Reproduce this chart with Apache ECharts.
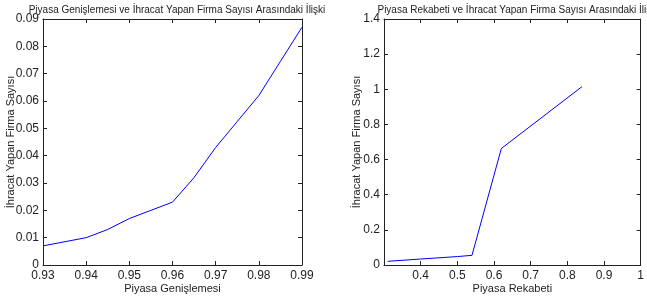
<!DOCTYPE html>
<html>
<head>
<meta charset="utf-8">
<script src="https://cdn.jsdelivr.net/npm/echarts@6/dist/echarts.min.js"></script>
<style>
  html, body { margin: 0; padding: 0; background: #fff; }
  #chart { width: 647px; height: 300px; }
</style>
</head>
<body>
<div id="chart"></div>
<script>
// left panel: Piyasa Genişlemesi
const genislemeX = [0.93, 0.94, 0.945, 0.95, 0.955, 0.96, 0.965, 0.97, 0.975, 0.98, 0.985, 0.99]
const genislemeY = [0.007, 0.010, 0.013, 0.017, 0.020, 0.023, 0.032, 0.043, 0.0525, 0.062, 0.0745, 0.087]

// right panel: Piyasa Rekabeti
const rekabetX = [0.31, 0.4, 0.5, 0.54, 0.62, 0.84]
const rekabetY = [0.021, 0.034, 0.048, 0.055, 0.663, 1.015]

const leftXRange = [0.93, 0.99, 0.01]
const leftYRange = [0, 0.09, 0.01]
const rightXRange = [0.3, 1, 0.1]
const rightYRange = [0, 1.4, 0.2]

const titles = [
  'Piyasa Genişlemesi ve İhracat Yapan Firma Sayısı Arasındaki İlişki',
  'Piyasa Rekabeti ve İhracat Yapan Firma Sayısı Arasındaki İlişki'
]
const xNames = ['Piyasa Genişlemesi', 'Piyasa Rekabeti']
const yName = 'İhracat Yapan Firma Sayısı'

const FONT = '"Liberation Sans", Arial, sans-serif'
const AXIS_COLOR = '#222'

const fmt = (v) => String(Math.round(v * 1000) / 1000)

function axis(kind, range, opts) {
  return Object.assign({
    type: 'value',
    min: range[0],
    max: range[1],
    interval: range[2],
    nameMoveOverlap: false,
    splitLine: { show: false },
    axisLine: { show: true, onZero: false, lineStyle: { color: AXIS_COLOR, width: 1 } },
    axisTick: { show: true, inside: true, length: 4, lineStyle: { color: AXIS_COLOR } },
    axisLabel: {
      show: true,
      color: '#222',
      fontFamily: FONT,
      fontSize: 12,
      margin: kind === 'x' ? 5 : 4,
      formatter: fmt
    },
    nameTextStyle: { color: '#222', fontFamily: FONT, fontSize: 11 }
  }, opts)
}

const mirror = { axisLabel: { show: false } }

const titleStyle = { fontFamily: FONT, fontSize: 10, fontWeight: 'normal', color: '#222' }

const option = {
  animation: false,
  backgroundColor: '#fff',
  title: [
    { text: titles[0], left: 172, top: 0, textAlign: 'center', textStyle: titleStyle },
    { text: titles[1], left: 513, top: 0, textAlign: 'center', textStyle: titleStyle }
  ],
  grid: [
    { left: 43, right: 345, top: 19, bottom: 35 },
    { left: 384, right: 5, top: 19, bottom: 35 }
  ],
  xAxis: [
    axis('x', leftXRange, { gridIndex: 0, position: 'bottom', name: xNames[0], nameLocation: 'middle', nameGap: 18 }),
    axis('x', leftXRange, Object.assign({ gridIndex: 0, position: 'top' }, mirror)),
    axis('x', rightXRange, { gridIndex: 1, position: 'bottom', name: xNames[1], nameLocation: 'middle', nameGap: 18 }),
    axis('x', rightXRange, Object.assign({ gridIndex: 1, position: 'top' }, mirror))
  ],
  yAxis: [
    axis('y', leftYRange, { gridIndex: 0, position: 'left', name: yName, nameLocation: 'middle', nameGap: 27 }),
    axis('y', leftYRange, Object.assign({ gridIndex: 0, position: 'right' }, mirror)),
    axis('y', rightYRange, { gridIndex: 1, position: 'left', name: yName, nameLocation: 'middle', nameGap: 22 }),
    axis('y', rightYRange, Object.assign({ gridIndex: 1, position: 'right' }, mirror))
  ],
  series: [
    {
      type: 'line', xAxisIndex: 0, yAxisIndex: 0,
      data: genislemeX.map((x, i) => [x, genislemeY[i]]),
      showSymbol: false, lineStyle: { color: '#0000ff', width: 1 }
    },
    {
      type: 'line', xAxisIndex: 2, yAxisIndex: 2,
      data: rekabetX.map((x, i) => [x, rekabetY[i]]),
      showSymbol: false, lineStyle: { color: '#0000ff', width: 1 }
    }
  ]
}

// hide the 0.3 label on the right panel like the original
option.xAxis[2].axisLabel.showMinLabel = false

const chart = echarts.init(document.getElementById('chart'))
chart.setOption(option)
</script>
</body>
</html>
